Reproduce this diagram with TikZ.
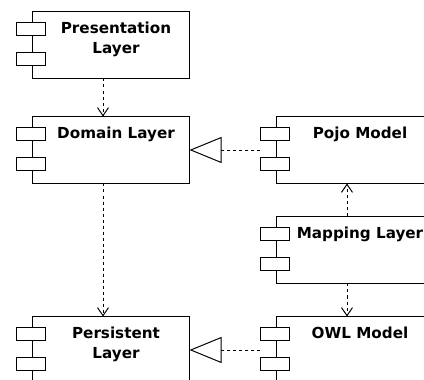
\documentclass[tikz,border=0pt]{standalone}
\usepackage{fontspec}
\setmainfont{DejaVu Sans}
\usepackage{tikz}
\usetikzlibrary{positioning}
\usetikzlibrary{arrows.meta}
\tikzstyle{layers} = [x = 0.025cm, y = -0.025cm, line width = 0.7pt]
\tikzstyle{compBox} = [draw, rectangle, minimum width = 3.9cm, minimum height = 1.65cm, inner sep = 0pt]
\tikzstyle{compTab} = [draw, fill=white]
\tikzstyle{compText} = [font=\fontsize{10.8}{14.2}\selectfont\bfseries, align=center, inner sep = 0pt]
\tikzstyle{dependency} = [dash pattern = on 0.75mm off 0.75mm, -{Straight Barb[length=2mm, width=2.75mm]}]
\tikzstyle{realization} = [dash pattern = on 0.75mm off 0.75mm, -{Triangle[open, length=8mm, width=6.5mm]}]
\newcommand{\component}[4]{
  \node [compBox] (#1) at (#2, #3) {};
  \node [compText, below = 2.6mm of #1.north, xshift = 1.25mm] (#1Text) {#4};
  \filldraw [compTab] ([shift={(-16,11)}]#1.north west) rectangle +(29,13);
  \filldraw [compTab] ([shift={(-16,41)}]#1.north west) rectangle +(29,13);
}

\begin{document}
\begin{tikzpicture}[layers]
  \useasboundingbox (0,0) rectangle (424,380);
  \clip (0,0) rectangle (424,380);

  \component{presentation}{111}{45}{Presentation\\Layer}
  \component{domain}{111}{150}{Domain Layer}
  \component{persistent}{111}{350}{Persistent\\Layer}

  \component{pojo}{355}{150}{Pojo Model}
  \component{mapping}{355}{250}{Mapping Layer}
  \component{owl}{355}{350}{OWL Model}

  \draw [dependency] ([xshift=-2mm]presentation.south) -- ([xshift=-2mm]domain.north);
  \draw [dependency] ([xshift=-2mm]domain.south) -- ([xshift=-2mm]persistent.north);
  \draw [dependency] ([xshift=-2mm]mapping.north) -- ([xshift=-2mm]pojo.south);
  \draw [dependency] ([xshift=-2mm]mapping.south) -- ([xshift=-2mm]owl.north);

  \draw [realization] ([xshift=-4mm]pojo.west) -- (domain.east);
  \draw [realization] ([xshift=-4mm]owl.west) -- (persistent.east);
\end{tikzpicture}
\end{document}
